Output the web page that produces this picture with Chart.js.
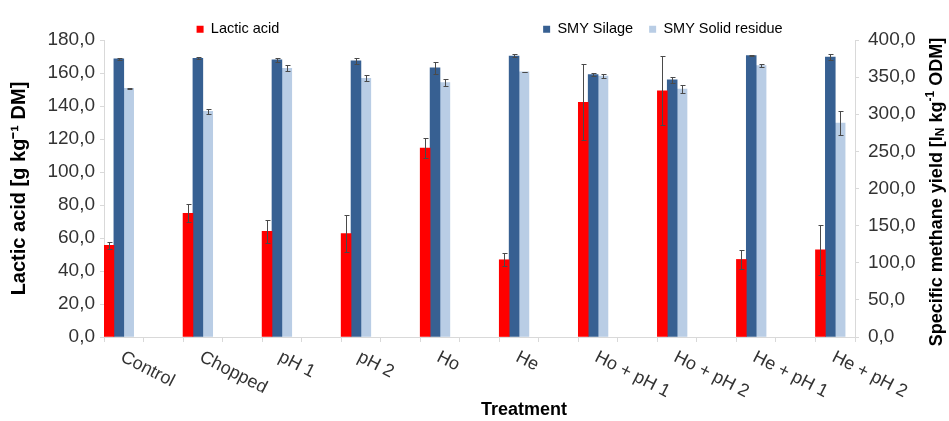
<!DOCTYPE html>
<html>
<head>
<meta charset="utf-8">
<script src="https://cdn.jsdelivr.net/npm/chart.js@4.4.1/dist/chart.umd.min.js"></script>
<style>
  html, body { margin: 0; padding: 0; background: #fff; }
</style>
</head>
<body>
<canvas id="lacticChart" width="949" height="421"></canvas>
<script>
const treatments = ['Control', 'Chopped', 'pH 1', 'pH 2', 'Ho', 'He', 'Ho + pH 1', 'Ho + pH 2', 'He + pH 1', 'He + pH 2'];

// g kg-1 DM (left axis)
const lacticAcid = [55.5, 75.0, 64.0, 62.7, 114.5, 46.8, 142.3, 149.2, 47.0, 52.8];
const lacticErr = [2, 5.5, 7, 11, 6, 4, 23, 21, 6, 15];

// lN kg-1 ODM (right axis)
const smySilage = [374.5, 375.3, 373.2, 371.8, 362.5, 378.5, 353.5, 346.5, 379.0, 377.0];
const smySilageErr = [1.5, 1.5, 2.5, 4.5, 8, 2, 2.5, 4, 1, 4];
const smyResidue = [335.0, 304.0, 362.0, 348.5, 342.8, 357.0, 351.5, 334.0, 365.5, 288.0];
const smyResidueErr = [0.5, 3, 4, 4, 5, 0.5, 2.5, 5.5, 2.5, 16];

const seriesNames = ['Lactic acid', 'SMY Silage', 'SMY Solid residue'];
const xTitle = 'Treatment';
const leftTitle = 'Lactic acid [g kg\u207B\u00B9 DM]';
// right title pieces: normal / sub / sup
const rightTitle = [['Specific methane yield [l', ''], ['N', 'sub'], [' kg', ''], ['-1', 'sup'], [' ODM]', '']];

const FONT = '"Liberation Sans", Arial, sans-serif';
Chart.defaults.font.family = FONT;

// excel chart has an empty slot between each treatment
function spread(arr, fill) {
  const out = [];
  arr.forEach((v, i) => {
    out.push(v);
    if (i < arr.length - 1) out.push(fill);
  });
  return out;
}

const fmt = v => v.toFixed(1).replace('.', ',');

const errorBars = {
  id: 'errorBars',
  afterDatasetsDraw(chart) {
    const ctx = chart.ctx;
    ctx.save();
    ctx.strokeStyle = '#4a4a4a';
    ctx.lineWidth = 1;
    chart.data.datasets.forEach((ds, di) => {
      if (!ds.errors) return;
      const meta = chart.getDatasetMeta(di);
      const yScale = chart.scales[ds.yAxisID];
      meta.data.forEach((bar, j) => {
        const v = ds.data[j];
        const e = ds.errors[j];
        if (v == null || !e) return;
        const x = Math.round(bar.x) + 0.5;
        const yTop = Math.round(yScale.getPixelForValue(v + e)) + 0.5;
        const yBot = Math.round(yScale.getPixelForValue(v - e)) + 0.5;
        ctx.beginPath();
        ctx.moveTo(x, yTop); ctx.lineTo(x, yBot);
        ctx.moveTo(x - 2, yTop); ctx.lineTo(x + 3, yTop);
        ctx.moveTo(x - 2, yBot); ctx.lineTo(x + 3, yBot);
        ctx.stroke();
      });
    });
    ctx.restore();
  }
};

// rotated (clockwise) category labels + titles chart.js can't place like excel
const extraText = {
  id: 'extraText',
  afterDraw(chart) {
    const ctx = chart.ctx;
    const xs = chart.scales.x;
    ctx.save();
    ctx.fillStyle = '#333';
    ctx.font = '18px ' + FONT;
    ctx.textAlign = 'left';
    ctx.textBaseline = 'top';
    chart.data.labels.forEach((lab, i) => {
      if (!lab) return;
      ctx.save();
      ctx.translate(xs.getPixelForValue(i) + 2, xs.top + 11);
      ctx.rotate(27 * Math.PI / 180);
      ctx.fillText(lab, 0, 0);
      ctx.restore();
    });

    ctx.fillStyle = '#000';
    ctx.font = 'bold 18px ' + FONT;
    ctx.textAlign = 'center';
    ctx.textBaseline = 'middle';
    ctx.fillText(xTitle, 524, 410);

    // right axis title, reads bottom to top
    const fonts = { '': 'bold 18px ' + FONT, sub: 'bold 12px ' + FONT, sup: 'bold 12px ' + FONT };
    const shift = { '': 0, sub: 4, sup: -6 };
    let total = 0;
    rightTitle.forEach(([t, k]) => { ctx.font = fonts[k]; total += ctx.measureText(t).width; });
    ctx.translate(937, 192);
    ctx.rotate(-Math.PI / 2);
    ctx.textAlign = 'left';
    let cx = -total / 2;
    rightTitle.forEach(([t, k]) => {
      ctx.font = fonts[k];
      ctx.fillText(t, cx, shift[k]);
      cx += ctx.measureText(t).width;
    });
    ctx.restore();
  }
};

const axisGrey = '#d9d9d9';

new Chart('lacticChart', {
  type: 'bar',
  data: {
    labels: spread(treatments, ''),
    datasets: [
      {
        label: seriesNames[0],
        data: spread(lacticAcid, null),
        errors: spread(lacticErr, null),
        backgroundColor: '#ff0000',
        yAxisID: 'y',
      },
      {
        label: seriesNames[1],
        data: spread(smySilage, null),
        errors: spread(smySilageErr, null),
        backgroundColor: '#376092',
        yAxisID: 'y1',
      },
      {
        label: seriesNames[2],
        data: spread(smyResidue, null),
        errors: spread(smyResidueErr, null),
        backgroundColor: '#b9cde5',
        yAxisID: 'y1',
      },
      {
        // empty 4th series, keeps the three bars on the left of each slot
        label: '',
        data: spread(treatments.map(() => null), null),
        backgroundColor: 'rgba(0,0,0,0)',
        yAxisID: 'y1',
      },
    ],
  },
  options: {
    responsive: false,
    animation: false,
    layout: { padding: { top: 6, left: 0, right: 0, bottom: 0 } },
    datasets: {
      bar: { barPercentage: 1, categoryPercentage: 1, borderWidth: 0 },
    },
    plugins: {
      tooltip: { enabled: false },
      legend: {
        position: 'top',
        maxHeight: 34,
        labels: {
          color: '#262626',
          font: { size: 14.5 },
          boxWidth: 7,
          boxHeight: 7,
          padding: 16,
          generateLabels(chart) {
            const items = chart.data.datasets.slice(0, 3).map((ds, i) => ({
              text: ds.label,
              fillStyle: ds.backgroundColor,
              strokeStyle: ds.backgroundColor,
              lineWidth: 0,
              hidden: false,
              datasetIndex: i,
            }));
            const gap = { text: '', fillStyle: 'rgba(0,0,0,0)', strokeStyle: 'rgba(0,0,0,0)', lineWidth: 0 };
            const wide = Object.assign({}, gap, { text: ' '.repeat(54) });
            return [gap, items[0], wide, items[1], items[2]];
          },
        },
      },
    },
    scales: {
      x: {
        type: 'category',
        offset: true,
        ticks: { display: false, autoSkip: false },
        grid: { offset: true, drawOnChartArea: false, drawTicks: true, tickLength: 5, color: axisGrey },
        border: { color: axisGrey },
        afterFit(scale) { scale.height = 84; },
      },
      y: {
        position: 'left',
        min: 0,
        max: 180,
        ticks: { stepSize: 20, color: '#333', font: { size: 19 }, padding: 5, callback: v => fmt(v) },
        grid: { drawOnChartArea: false, drawTicks: true, tickLength: 4, color: axisGrey },
        border: { color: axisGrey },
        title: {
          display: true,
          text: leftTitle,
          color: '#000',
          font: { size: 20, weight: 'bold' },
          padding: { top: 7, bottom: 0 },
        },
        afterFit(scale) { scale.width = 104; },
      },
      y1: {
        position: 'right',
        min: 0,
        max: 400,
        ticks: { stepSize: 50, color: '#333', font: { size: 19 }, padding: 9, callback: v => fmt(v) },
        grid: { drawOnChartArea: false, drawTicks: true, tickLength: 4, color: axisGrey },
        border: { color: axisGrey },
        afterFit(scale) { scale.width = 94; },
      },
    },
  },
  plugins: [errorBars, extraText],
});
</script>
</body>
</html>
